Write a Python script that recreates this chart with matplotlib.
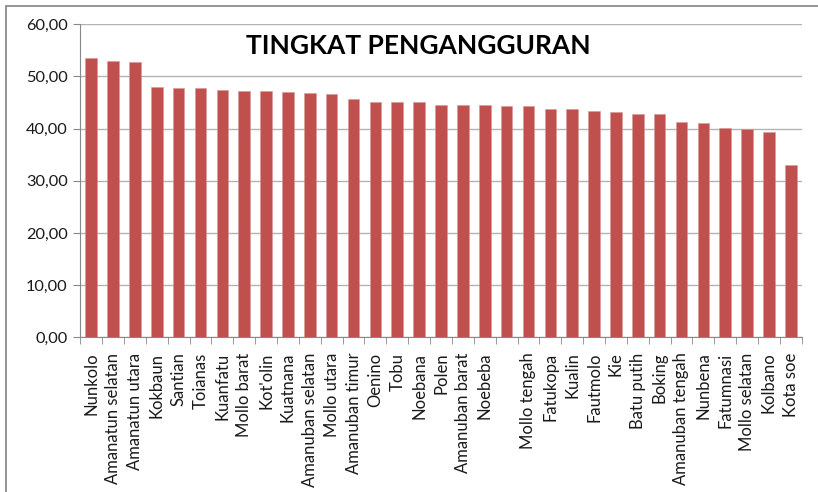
import matplotlib
matplotlib.use("Agg")
import matplotlib.pyplot as plt
from matplotlib.ticker import FuncFormatter, MultipleLocator
from matplotlib.patches import Rectangle
import numpy as np

plt.rcParams['font.family'] = ['Lato', 'DejaVu Sans']

kecamatan = ["Nunkolo", "Amanatun selatan", "Amanatun utara", "Kokbaun", "Santian",
             "Toianas", "Kuanfatu", "Mollo barat", "Kot'olin", "Kuatnana",
             "Amanuban selatan", "Mollo utara", "Amanuban timur", "Oenino", "Tobu",
             "Noebana", "Polen", "Amanuban barat", "Noebeba", "", "Mollo tengah",
             "Fatukopa", "Kualin", "Fautmolo", "Kie", "Batu putih", "Boking",
             "Amanuban tengah", "Nunbena", "Fatumnasi", "Mollo selatan", "Kolbano",
             "Kota soe"]
tingkat = [53.5, 53.0, 52.8, 48.05, 47.7, 47.7, 47.5, 47.2, 47.2, 47.0,
           46.8, 46.6, 45.7, 45.2, 45.2, 45.05, 44.5, 44.5, 44.5, 44.3, 44.3,
           43.8, 43.8, 43.4, 43.1, 42.9, 42.8, 41.3, 41.0, 40.2, 40.0, 39.3,
           33.0]

fig = plt.figure(figsize=(8.18, 4.92), dpi=100)
# bingkai chart (cuma kiri & atas yang kelihatan)
fig.patches.append(Rectangle((5.5 / 818, -0.05), 1.2, 1.05 - 5.5 / 492, transform=fig.transFigure,
                             fill=False, edgecolor='#8c8c8c', lw=1.3))

ax = fig.add_axes([80.3 / 818, 1 - 337.3 / 492, (801.7 - 80.3) / 818, (337.3 - 24.3) / 492])
x = np.arange(len(kecamatan))
ax.bar(x, tingkat, width=0.53, color='#C0504D', edgecolor='#D99795', linewidth=0.4, zorder=3)

ax.set_xlim(-0.5, len(kecamatan) - 0.5)
ax.set_ylim(0, 60)
ax.yaxis.set_major_locator(MultipleLocator(10))
ax.yaxis.set_major_formatter(FuncFormatter(lambda v, p: f"{v:.2f}".replace('.', ',')))
ax.grid(axis='y', color='#b3b3b3', lw=1, zorder=0)

ax.set_xticks(x)
ax.set_xticklabels(kecamatan, rotation=90, fontsize=12, color='#1a1a1a')
ax.set_xticks(np.arange(len(kecamatan) + 1) - 0.5, minor=True)
ax.tick_params(axis='x', which='major', length=0, pad=11)
ax.tick_params(axis='x', which='minor', length=5, color='#888888')
ax.tick_params(axis='y', length=5, color='#888888', labelsize=11.8, labelcolor='#1a1a1a', pad=4)

for s in ['top', 'right']:
    ax.spines[s].set_visible(False)
for s in ['left', 'bottom']:
    ax.spines[s].set_color('#888888')

fig.text(418 / 818, 1 - 46 / 492, "TINGKAT PENGANGGURAN", ha='center', va='center',
         fontsize=19, fontweight='bold', color='black')

fig.savefig("out.png", dpi=100)
